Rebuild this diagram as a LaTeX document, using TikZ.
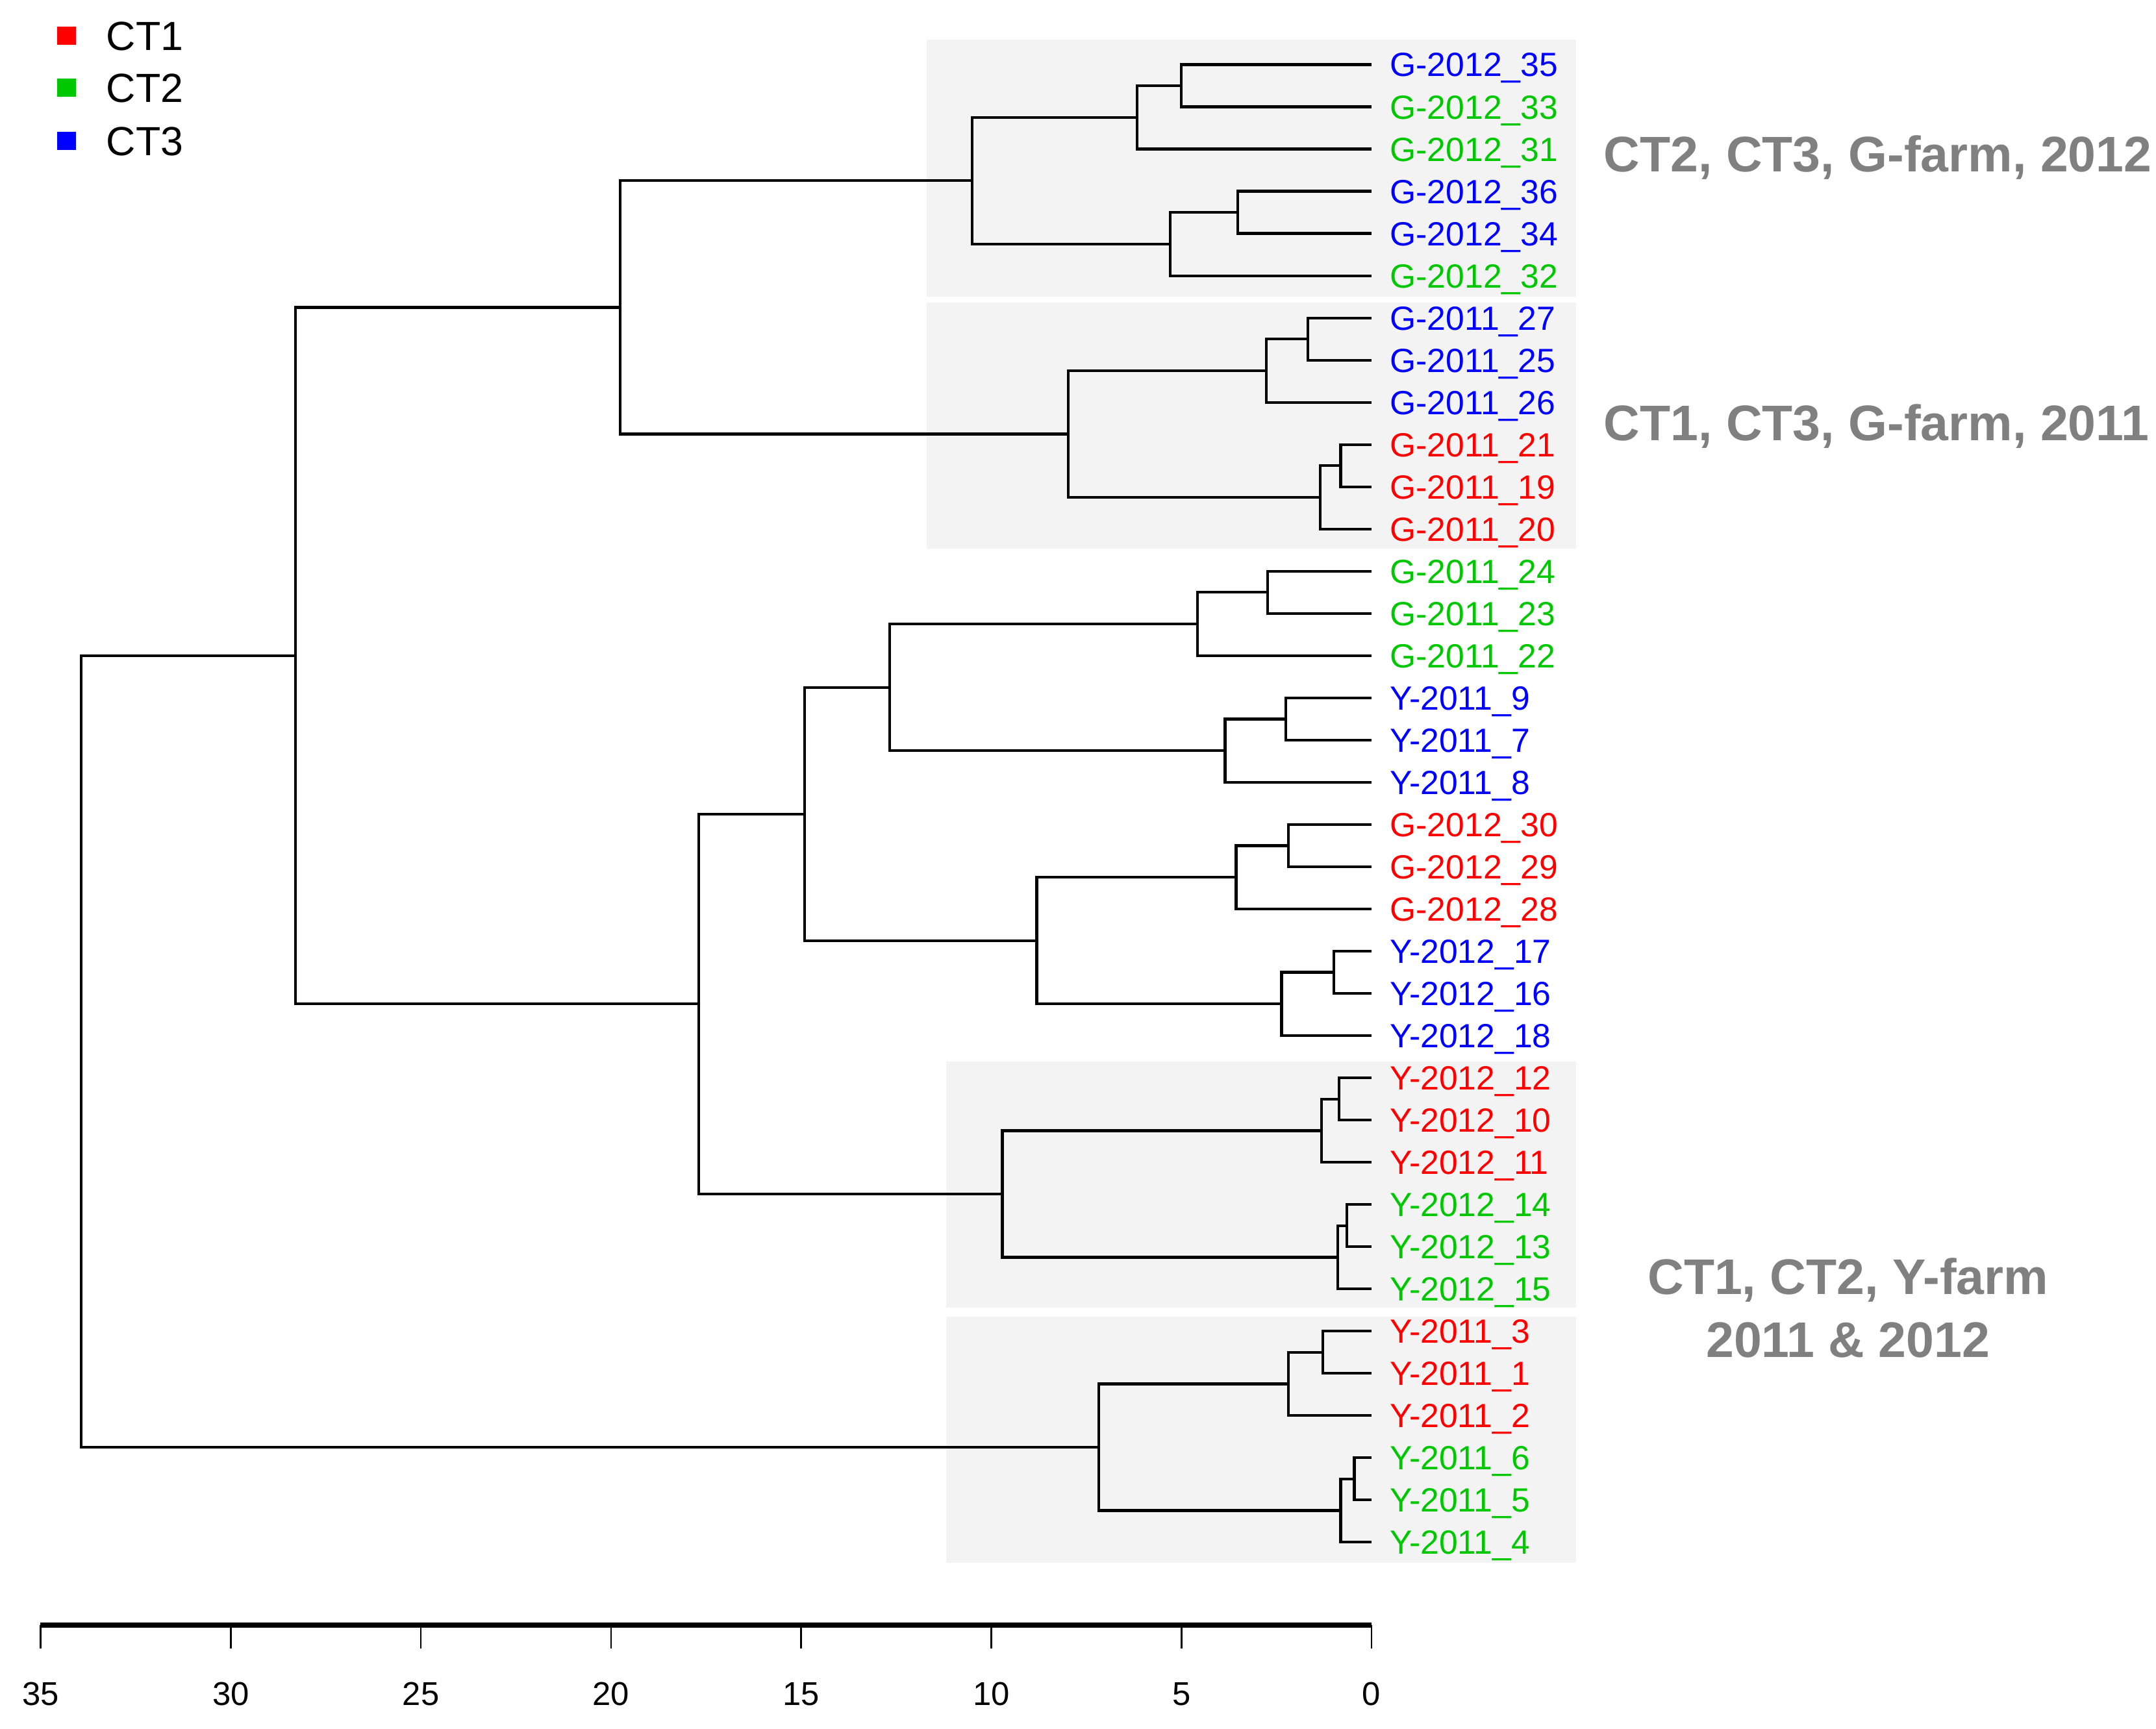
\documentclass[tikz,border=0pt]{standalone}
\usepackage{fontspec}
\setmainfont{Liberation Sans}
\definecolor{cred}{RGB}{255,0,0}
\definecolor{cgreen}{RGB}{0,200,0}
\definecolor{cblue}{RGB}{0,0,255}
\definecolor{cgray}{RGB}{128,128,128}
\definecolor{boxfill}{RGB}{243,243,243}
\begin{document}
\begin{tikzpicture}[x=0.5pt,y=-0.5pt,
  br/.style={line width=1pt, line join=miter},
  leaf/.style={anchor=west, inner xsep=6.5pt, inner ysep=0pt, text height=8.73pt, text depth=0pt, font=\fontsize{12.2}{14}\selectfont},
  ticklab/.style={inner sep=0pt, text height=8.6pt, text depth=0pt, font=\fontsize{12}{14}\selectfont},
  tickmark/.style={line width=0.6pt},
  sq/.style={minimum size=6.75pt, inner sep=0pt},
  legtext/.style={anchor=west, inner sep=0pt, text height=10.6pt, text depth=0pt, font=\fontsize{14.8}{16}\selectfont},
  clab/.style={inner sep=0pt, text=cgray, font=\fontsize{18.2}{23}\selectfont\bfseries},
  shade/.style={fill=boxfill}
]
\useasboundingbox (0,0) rectangle (1568,1257.7);
% shaded cluster boxes
\path[shade] (674,29) rectangle (1146,216);
\path[shade] (674,220) rectangle (1146,399);
\path[shade] (688,772) rectangle (1146,951);
\path[shade] (688,958) rectangle (1146,1137);
% leaves
\foreach \n/\t/\c [count=\i from 0] in {
  35/G-2012\_35/cblue, 33/G-2012\_33/cgreen, 31/G-2012\_31/cgreen,
  36/G-2012\_36/cblue, 34/G-2012\_34/cblue, 32/G-2012\_32/cgreen,
  27/G-2011\_27/cblue, 25/G-2011\_25/cblue, 26/G-2011\_26/cblue,
  21/G-2011\_21/cred, 19/G-2011\_19/cred, 20/G-2011\_20/cred,
  24/G-2011\_24/cgreen, 23/G-2011\_23/cgreen, 22/G-2011\_22/cgreen,
  9/Y-2011\_9/cblue, 7/Y-2011\_7/cblue, 8/Y-2011\_8/cblue,
  30/G-2012\_30/cred, 29/G-2012\_29/cred, 28/G-2012\_28/cred,
  17/Y-2012\_17/cblue, 16/Y-2012\_16/cblue, 18/Y-2012\_18/cblue,
  12/Y-2012\_12/cred, 10/Y-2012\_10/cred, 11/Y-2012\_11/cred,
  14/Y-2012\_14/cgreen, 13/Y-2012\_13/cgreen, 15/Y-2012\_15/cgreen,
  3/Y-2011\_3/cred, 1/Y-2011\_1/cred, 2/Y-2011\_2/cred,
  6/Y-2011\_6/cgreen, 5/Y-2011\_5/cgreen, 4/Y-2011\_4/cgreen}
  { \node[leaf, text=\c] (L\n) at (997.5, {47+30.71*\i}) {\t}; }
% internal merge points
\coordinate (a1) at (859,62.35);
\coordinate (a2) at (827,85.4);
\coordinate (a3) at (900,154.45);
\coordinate (a4) at (851,177.5);
\coordinate (a5) at (707,131.45);
\coordinate (b1) at (951,246.65);
\coordinate (b2) at (921,269.7);
\coordinate (b3) at (975,338.75);
\coordinate (b4) at (960,361.8);
\coordinate (b5) at (777,315.75);
\coordinate (ab) at (451,223.6);
\coordinate (c1) at (922,430.85);
\coordinate (c2) at (871,453.9);
\coordinate (c3) at (935,523.05);
\coordinate (c4) at (891,546.1);
\coordinate (c5) at (647,500);
\coordinate (d1) at (937,615.15);
\coordinate (d2) at (899,638.2);
\coordinate (d3) at (970,707.25);
\coordinate (d4) at (932,730.3);
\coordinate (d5) at (754,684.25);
\coordinate (cd) at (585,592.1);
\coordinate (e1) at (974,799.4);
\coordinate (e2) at (961,822.45);
\coordinate (e3) at (979.5,891.55);
\coordinate (e4) at (973,914.6);
\coordinate (e5) at (729,868.5);
\coordinate (ce) at (508,730.3);
\coordinate (top) at (215,476.95);
\coordinate (f1) at (962,983.65);
\coordinate (f2) at (937,1006.7);
\coordinate (f3) at (985,1075.75);
\coordinate (f4) at (975,1098.8);
\coordinate (f5) at (799,1052.75);
\coordinate (root) at (59,764.85);
% dendrogram brackets
\draw[br] (L35.west) -| (a1) |- (L33.west);
\draw[br] (a1) -| (a2) |- (L31.west);
\draw[br] (L36.west) -| (a3) |- (L34.west);
\draw[br] (a3) -| (a4) |- (L32.west);
\draw[br] (a2) -| (a5) |- (a4);
\draw[br] (L27.west) -| (b1) |- (L25.west);
\draw[br] (b1) -| (b2) |- (L26.west);
\draw[br] (L21.west) -| (b3) |- (L19.west);
\draw[br] (b3) -| (b4) |- (L20.west);
\draw[br] (b2) -| (b5) |- (b4);
\draw[br] (a5) -| (ab) |- (b5);
\draw[br] (L24.west) -| (c1) |- (L23.west);
\draw[br] (c1) -| (c2) |- (L22.west);
\draw[br] (L9.west) -| (c3) |- (L7.west);
\draw[br] (c3) -| (c4) |- (L8.west);
\draw[br] (c2) -| (c5) |- (c4);
\draw[br] (L30.west) -| (d1) |- (L29.west);
\draw[br] (d1) -| (d2) |- (L28.west);
\draw[br] (L17.west) -| (d3) |- (L16.west);
\draw[br] (d3) -| (d4) |- (L18.west);
\draw[br] (d2) -| (d5) |- (d4);
\draw[br] (c5) -| (cd) |- (d5);
\draw[br] (L12.west) -| (e1) |- (L10.west);
\draw[br] (e1) -| (e2) |- (L11.west);
\draw[br] (L14.west) -| (e3) |- (L13.west);
\draw[br] (e3) -| (e4) |- (L15.west);
\draw[br] (e2) -| (e5) |- (e4);
\draw[br] (cd) -| (ce) |- (e5);
\draw[br] (ab) -| (top) |- (ce);
\draw[br] (L3.west) -| (f1) |- (L1.west);
\draw[br] (f1) -| (f2) |- (L2.west);
\draw[br] (L6.west) -| (f3) |- (L5.west);
\draw[br] (f3) -| (f4) |- (L4.west);
\draw[br] (f2) -| (f5) |- (f4);
\draw[br] (top) -| (root) |- (f5);
% axis
\foreach \v in {0,5,...,35} {
  \coordinate (t\v) at ({997.5-27.657*\v},1182);
  \draw[tickmark] (t\v) -- ++(0,17);
  \node[ticklab] (tl\v) at ({997.5-27.657*\v},1232) {\v};
}
\draw[line width=2pt] (t35) -- (t0);
% legend
\node[sq, fill=cred] (k1) at (48.4,26) {};
\node[sq, fill=cgreen] (k2) at (48.4,63.8) {};
\node[sq, fill=cblue] (k3) at (48.4,102.4) {};
\node[legtext] (k1t) at (77,26) {CT1};
\node[legtext] (k2t) at (77,63.8) {CT2};
\node[legtext] (k3t) at (77,102.4) {CT3};
% cluster labels
\node[clab, anchor=west, text height=13pt, text depth=0pt] (g12) at (1166,111.7) {CT2, CT3, G-farm, 2012};
\node[clab, anchor=west, text height=13pt, text depth=0pt] (g11) at (1166,307.5) {CT1, CT3, G-farm, 2011};
\node[clab, anchor=north, align=center] (yf) at (1344,914.5) {CT1, CT2, Y-farm\\2011 \& 2012};
\end{tikzpicture}
\end{document}
